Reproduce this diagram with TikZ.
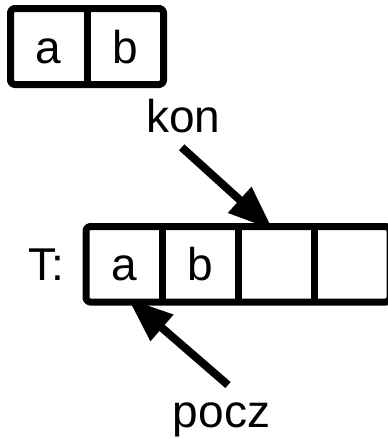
\documentclass[tikz,border=0pt]{standalone}
\usepackage{fontspec}
\setmainfont{Liberation Sans}
\usetikzlibrary{arrows.meta}
\begin{document}
\begin{tikzpicture}[x=1pt,y=-1pt,
  lbl/.style={inner sep=0pt, outer sep=0pt, font=\fontsize{46pt}{50pt}\selectfont},
  cell/.style={lbl, minimum width=76pt, minimum height=76pt, text height=33pt, text depth=0pt},
  frame/.style={line width=7pt, rounded corners=4pt, line join=round},
  divider/.style={line width=7pt},
  ptr/.style={line width=8pt, -{Triangle[length=45pt,width=33pt]}}]
\useasboundingbox (0,0) rectangle (388,439);

% two-cell record: a | b
\node[cell, minimum width=76.5pt] (ta) at (48.75,46.5) {a};
\node[cell, minimum width=76.5pt] (tb) at (125.25,46.5) {b};
\draw[frame] (ta.north west) rectangle (tb.south east);
\draw[divider] (ta.north east) -- (ta.south east);

% array T with four cells
\node[lbl, anchor=base west] (tlabel) at (28,280) {T:};
\node[cell, minimum height=75.5pt] (c1) at (124,264.25) {a};
\node[cell, minimum height=75.5pt] (c2) at (200,264.25) {b};
\node[cell, minimum height=75.5pt] (c3) at (276,264.25) {};
\node[cell, minimum height=75.5pt] (c4) at (352,264.25) {};
\draw[frame] (c1.north west) rectangle (c4.south east);
\draw[divider] (c1.north east) -- (c1.south east);
\draw[divider] (c2.north east) -- (c2.south east);
\draw[divider] (c3.north east) -- (c3.south east);

% pointers
\node[lbl, anchor=base] (kon) at (183.5,132) {kon};
\node[lbl, anchor=base] (pocz) at (221.5,427) {pocz};
\coordinate (konfoot) at (181.7,147.3);
\coordinate (poczhead) at (228,385);
\draw[ptr] (konfoot) -- ([xshift=-3pt,yshift=-3.5pt]c3.north);
\draw[ptr] (poczhead) -- ([xshift=4pt,yshift=3.5pt]c1.south);
\end{tikzpicture}
\end{document}
